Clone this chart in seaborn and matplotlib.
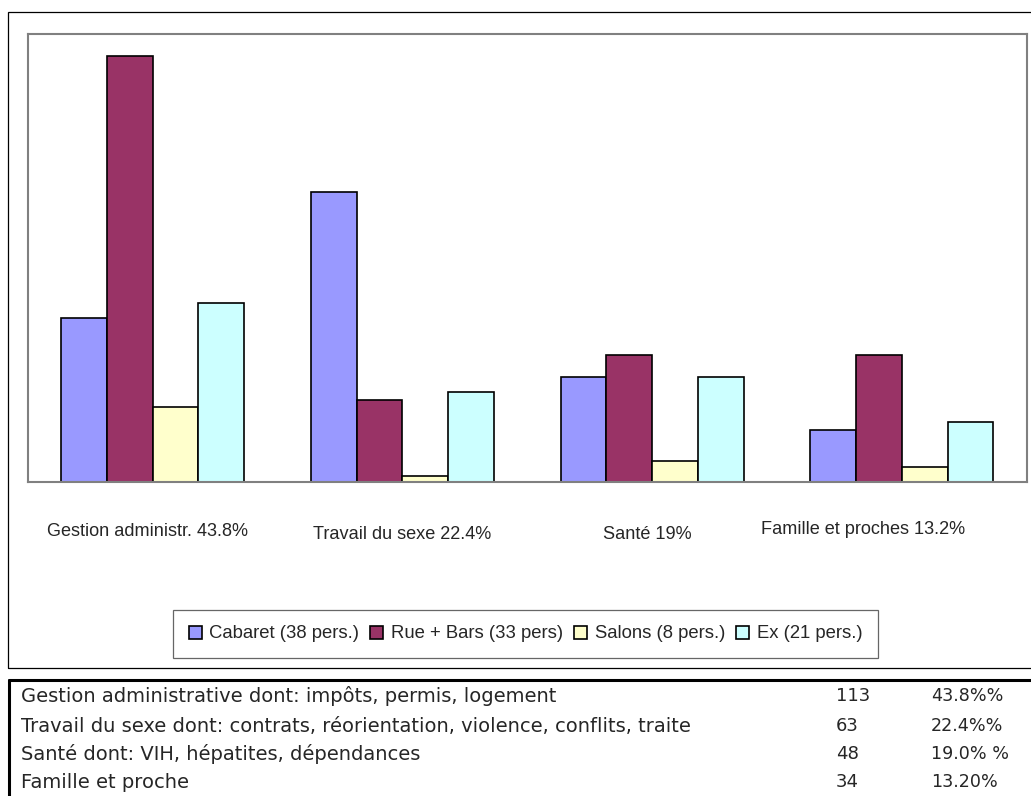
import pandas as pd
import matplotlib
matplotlib.use("Agg")
import matplotlib.pyplot as plt
import seaborn as sns
from matplotlib import font_manager
from matplotlib.patches import Rectangle
from matplotlib.lines import Line2D

# ------------------------------------------------------
# données
# ------------------------------------------------------
categories = ["Gestion administr. 43.8%", "Travail du sexe 22.4%", "Santé 19%", "Famille et proches 13.2%"]
groupes = ["Cabaret (38 pers.)", "Rue + Bars (33 pers)", "Salons (8 pers.)", "Ex (21 pers.)"]

cabaret = [36.5, 64.8, 23.5, 11.5]
rue_bars = [95.2, 18.3, 28.3, 28.3]
salons = [16.7, 1.4, 4.7, 3.3]
ex = [39.9, 20.2, 23.5, 13.5]

couleurs = ["#9999FF", "#993366", "#FFFFCC", "#CCFFFF"]

table_libelles = [
    "Gestion administrative dont: impôts, permis, logement",
    "Travail du sexe dont: contrats, réorientation, violence, conflits, traite",
    "Santé dont: VIH, hépatites, dépendances",
    "Famille et proche",
]
table_nombres = ["113", "63", "48", "34"]
table_pourcents = ["43.8%%", "22.4%%", "19.0% %", "13.20%"]

# tableau long pour seaborn
rows = []
for nom, vals in zip(groupes, [cabaret, rue_bars, salons, ex]):
    for cat, v in zip(categories, vals):
        rows.append({"categorie": cat, "groupe": nom, "valeur": v})
df = pd.DataFrame(rows)

# ------------------------------------------------------
# polices
# ------------------------------------------------------
sns.set_style("white")
noms = {f.name for f in font_manager.fontManager.ttflist}
if "Liberation Sans Narrow" in noms:
    police = "Liberation Sans Narrow"
    taille = 15.5
else:
    police = "Liberation Sans"
    taille = 12.8
plt.rcParams["font.family"] = [police, "DejaVu Sans"]

W, H = 1031, 796
fig = plt.figure(figsize=(W / 100, H / 100), dpi=100)
ax = fig.add_axes([27.7 / W, 1 - 482 / H, 999 / W, 448 / H])

sns.barplot(data=df, x="categorie", y="valeur", hue="groupe", palette=couleurs,
            width=0.733, saturation=1, edgecolor="black", linewidth=1.2, ax=ax)

ax.set_ylim(0, 100)
ax.set_xlim(-0.5, 3.5)
ax.set_xticks([])
ax.set_yticks([])
ax.set_xlabel("")
ax.set_ylabel("")
for s in ax.spines.values():
    s.set_visible(True)
    s.set_color("#808080")
    s.set_linewidth(1.5)

# étiquettes des catégories (décalées comme dans l'original)
decalages = [(-0.02, -35.5), (0.0, -38.0), (-0.018, -37.5), (-0.156, -34.5)]
for i, cat in enumerate(categories):
    dx, dy = decalages[i]
    ax.annotate(cat, xy=(i + dx, 0), xycoords=("data", "axes fraction"),
                xytext=(0, dy), textcoords="offset points",
                ha="center", va="center", fontsize=taille + 0.3, family=[police, "DejaVu Sans"])

# légende
handles, labels = ax.get_legend_handles_labels()
ax.get_legend().remove()
leg = fig.legend(handles, labels, loc="center", bbox_to_anchor=(525.5 / W, 1 - 634 / H),
                 ncol=4, frameon=True, fancybox=False, edgecolor="#404040",
                 handlelength=0.7, handleheight=0.7, handletextpad=0.4,
                 columnspacing=0.62, borderpad=0.85, borderaxespad=0,
                 prop={"family": police, "size": taille + 0.5})
leg.get_frame().set_linewidth(0.9)

# cadre du graphique
fig.add_artist(Rectangle((8.3 / W, 1 - 668 / H), (1040 - 8.3) / W, (668 - 12) / H,
                         transform=fig.transFigure, fill=False, ec="black", lw=0.9))

# tableau récapitulatif
fig.add_artist(Line2D([9 / W, 1], [1 - 680 / H] * 2, color="black", lw=2.2, transform=fig.transFigure))
fig.add_artist(Line2D([9 / W, 9 / W], [1 - 680 / H, 0], color="black", lw=2.2, transform=fig.transFigure))

lignes_y = [696, 726, 754, 782]
for y, lib, n, p in zip(lignes_y, table_libelles, table_nombres, table_pourcents):
    fig.text(21 / W, 1 - y / H, lib, va="center", ha="left", fontsize=14, family="DejaVu Sans")
    fig.text(836 / W, 1 - y / H, n, va="center", ha="left", fontsize=13, family="DejaVu Sans")
    fig.text(931 / W, 1 - y / H, p, va="center", ha="left", fontsize=12.6, family="DejaVu Sans")

fig.savefig("out.png", dpi=100)
